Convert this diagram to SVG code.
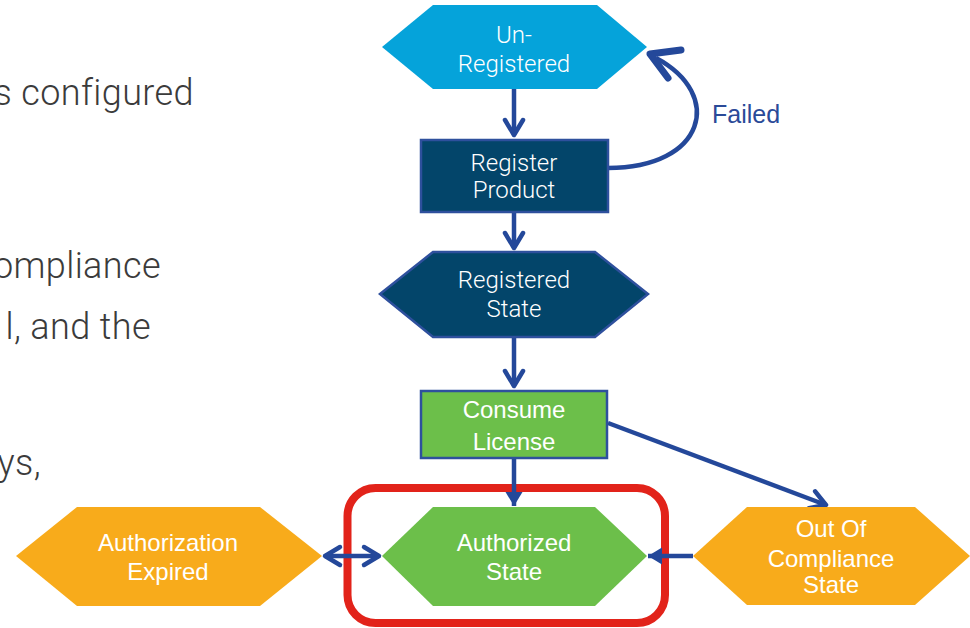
<svg xmlns="http://www.w3.org/2000/svg" width="970" height="628" viewBox="0 0 970 628">
  <style>
    .body { font-family: Roboto, "Liberation Sans", sans-serif; font-weight: 300; font-size: 36px; letter-spacing: 0.4px; fill: #3b3b3b; }
    .lt { font-family: Roboto, "Liberation Sans", sans-serif; font-weight: 300; font-size: 24px; fill: #ffffff; text-anchor: middle; }
    .ar { font-family: "Liberation Sans", Arial, sans-serif; font-size: 24px; fill: #ffffff; text-anchor: middle; }
    .conn { fill: none; stroke: #24489A; stroke-width: 4.5; }
    .navy { fill: #03456A; stroke: #2E509D; stroke-width: 2.5; }
    .green { fill: #6CBF4A; }
    .orange { fill: #F8AB1B; }
    .label { font-family: "Liberation Sans", Arial, sans-serif; font-size: 25px; fill: #2A4A98; }
  </style>
  <defs>
    <marker id="chev" viewBox="-20 -12 24 24" refX="0" refY="0" markerWidth="24" markerHeight="24" markerUnits="userSpaceOnUse" orient="auto-start-reverse" overflow="visible">
      <path d="M-15,-9 L0,0 L-15,9" fill="none" stroke="#24489A" stroke-width="4.5" stroke-linecap="round" stroke-linejoin="round"/>
    </marker>
    <marker id="tri" viewBox="-16 -10 18 20" refX="0" refY="0" markerWidth="18" markerHeight="20" markerUnits="userSpaceOnUse" orient="auto" overflow="visible">
      <path d="M-14,-8.5 L0,0 L-14,8.5 Z" fill="#24489A"/>
    </marker>
  </defs>

  <!-- paragraph fragments on the left -->
  <g id="paragraph">
    <text class="body" x="194" y="105" text-anchor="end">s configured</text>
    <text class="body" x="161" y="278" text-anchor="end">ompliance</text>
    <text class="body" x="151" y="339" text-anchor="end">l, and the</text>
    <text class="body" x="41" y="475" text-anchor="end">ys,</text>
  </g>

  <!-- highlight frame -->
  <rect id="highlight" x="347.5" y="488" width="317.5" height="135" rx="28" ry="28" fill="none" stroke="#E2231A" stroke-width="8"/>

  <g id="connectors">
    <path class="conn" d="M514,89 L514,135" marker-end="url(#chev)"/>
    <path class="conn" d="M514,212 L514,248" marker-end="url(#chev)"/>
    <path class="conn" d="M514,337 L514,386" marker-end="url(#chev)"/>
    <path class="conn" d="M514,458 L514,506" marker-end="url(#tri)"/>
    <path class="conn" d="M608,423 L826,505" marker-end="url(#chev)"/>
    <path class="conn" d="M693,556 L648,556" marker-end="url(#tri)"/>
    <path class="conn" d="M325,556 L379,556" marker-start="url(#chev)" marker-end="url(#chev)"/>
    <!-- retry loop -->
    <path class="conn" d="M608,168 C705,168 725,95 656,58" stroke-width="7"/>
    <polyline points="681,50 650,54 668,78" fill="none" stroke="#24489A" stroke-width="7" stroke-linecap="round" stroke-linejoin="round"/>
    <text class="label" x="712" y="123">Failed</text>
  </g>

  <g id="unregistered">
    <polygon points="382,47 433,5 597,5 647,47 597,89 433,89" fill="#05A3DA"/>
    <text class="lt" x="514" y="43">Un-</text>
    <text class="lt" x="514" y="72">Registered</text>
  </g>

  <g id="register-product">
    <rect class="navy" x="421" y="140" width="187" height="72"/>
    <text class="lt" x="514" y="171">Register</text>
    <text class="lt" x="514" y="198">Product</text>
  </g>

  <g id="registered-state">
    <polygon class="navy" points="380,294 433,252 595,252 648,294 595,337 433,337"/>
    <text class="lt" x="514" y="288">Registered</text>
    <text class="lt" x="514" y="317">State</text>
  </g>

  <g id="consume-license">
    <rect x="421" y="391" width="186" height="67" fill="#6CBF4A" stroke="#2E509D" stroke-width="2.5"/>
    <text class="ar" x="514" y="418" font-size="27">Consume</text>
    <text class="ar" x="514" y="450" font-size="27">License</text>
  </g>

  <g id="authorized-state">
    <polygon class="green" points="382,556 433,507 595,507 647,556 595,606 433,606"/>
    <text class="ar" x="514" y="551">Authorized</text>
    <text class="ar" x="514" y="580">State</text>
  </g>

  <g id="authorization-expired">
    <polygon class="orange" points="16,556 77,507 260,507 322,556 260,606 77,606"/>
    <text class="ar" x="168" y="551">Authorization</text>
    <text class="ar" x="168" y="580">Expired</text>
  </g>

  <g id="out-of-compliance">
    <polygon class="orange" points="693,556 747,507 915,507 970,556 915,605 747,605"/>
    <text class="ar" x="831" y="537">Out Of</text>
    <text class="ar" x="831" y="567">Compliance</text>
    <text class="ar" x="831" y="593">State</text>
  </g>
</svg>
